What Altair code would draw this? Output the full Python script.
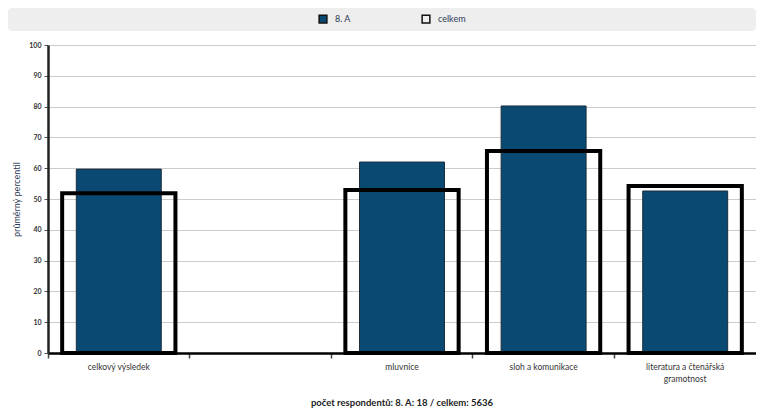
import altair as alt
import pandas as pd

categories = ["celkový výsledek", " ", "mluvnice", "sloh a komunikace",
              "literatura a čtenářská gramotnost"]
series_names = ["8. A", "celkem"]
class_values = [59.7, None, 62.0, 80.2, 52.6]
total_values = [51.9, None, 52.9, 65.6, 54.2]

rows = []
for c, a, t in zip(categories, class_values, total_values):
    if a is not None:
        rows.append({"kategorie": c, "serie": series_names[0], "hodnota": a})
    if t is not None:
        rows.append({"kategorie": c, "serie": series_names[1], "hodnota": t})
df = pd.DataFrame(rows)

FONT = "Lato"
W, H = 708, 308

x_enc = alt.X(
    "kategorie:N",
    sort=categories,
    scale=alt.Scale(domain=categories, paddingInner=0, paddingOuter=0),
    axis=alt.Axis(
        title=None, labelAngle=0, bandPosition=0, domainColor="#000000",
        domainWidth=2.5, tickColor="#444444", tickSize=5, tickWidth=1.5,
        labelFontSize=8.5, labelColor="#333333", labelPadding=4,
        labelLineHeight=12, labelFont=FONT, labelLimit=200,
        labelExpr="datum.value == 'literatura a čtenářská gramotnost' ? ['literatura a čtenářská', 'gramotnost'] : datum.value",
    ),
)
y_enc = alt.Y(
    "hodnota:Q",
    scale=alt.Scale(domain=[0, 100], nice=False),
    axis=alt.Axis(
        title="průměrný percentil", values=list(range(0, 101, 10)),
        titleFont=FONT, titleFontSize=9, titleFontWeight="normal",
        titleColor="#2b3a55", titlePadding=7,
        labelFont=FONT, labelFontSize=7, labelFontWeight="bold",
        labelColor="#333333", labelPadding=3,
        domainColor="#222222", domainWidth=2.5, tickColor="#555555",
        tickSize=4, gridColor="#cccccc", gridWidth=1.2,
    ),
)
fill_enc = alt.Fill(
    "serie:N",
    scale=alt.Scale(domain=series_names, range=["#0a4a72", "transparent"]),
    legend=alt.Legend(
        title=None, orient="none", direction="horizontal",
        legendX=270, legendY=-31, symbolType="square", symbolSize=60,
        symbolStrokeColor="#111111", symbolStrokeWidth=1.5,
        labelFont=FONT, labelFontSize=9, labelColor="#2b3a55",
        columnPadding=68, labelOffset=7,
    ),
)

bg = alt.Chart(pd.DataFrame({"a": [0]})).mark_rect(
    color="#eeeeee", cornerRadius=4
).encode(
    x=alt.value(-40), x2=alt.value(W), y=alt.value(-37), y2=alt.value(-14)
)

base = alt.Chart(df)
bars = base.transform_filter(alt.datum.serie == series_names[0]).mark_bar(
    width=alt.RelativeBandSize(0.6), stroke="#1c2c3c", strokeWidth=1
).encode(x=x_enc, y=y_enc, fill=fill_enc)

outline = base.transform_filter(alt.datum.serie == series_names[1]).mark_bar(
    width=alt.RelativeBandSize(0.8), stroke="#000000", strokeWidth=4
).encode(x=x_enc, y=y_enc, fill=fill_enc)

chart = alt.layer(bg, bars, outline).properties(
    width=W, height=H,
    autosize=alt.AutoSizeParams(type="none"),
    padding={"left": 40, "top": 37, "right": 0, "bottom": 55},
    title=alt.TitleParams(
        "počet respondentů: 8. A: 18 / celkem: 5636", orient="bottom",
        anchor="middle", font=FONT, fontSize=9.5, fontWeight="bold",
        color="#222222", offset=15,
    ),
).configure_view(stroke=None).configure(font=FONT)

chart.save("out.html", embed_options={"renderer": "svg", "actions": False})
